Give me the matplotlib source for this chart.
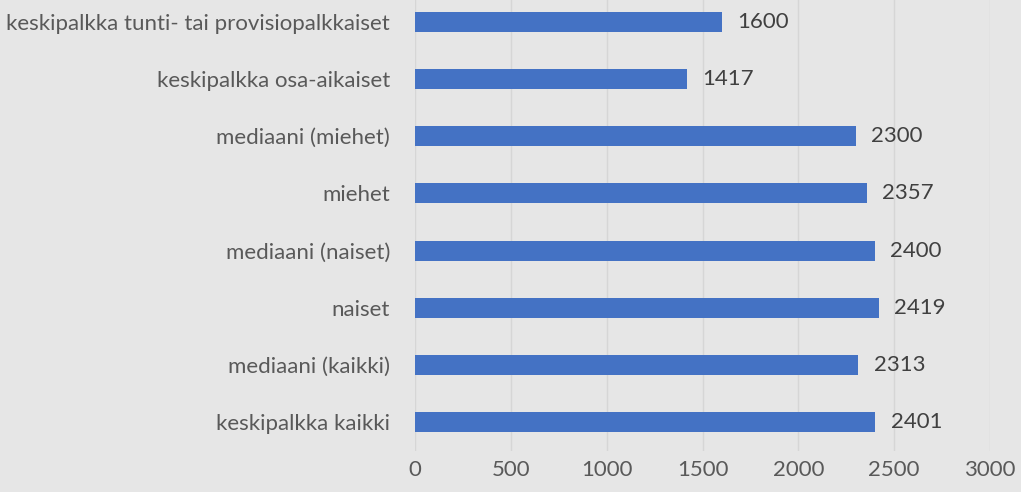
import matplotlib
matplotlib.use("Agg")
import matplotlib.pyplot as plt

# palkkatiedot, alhaalta ylös
categories = [
    "keskipalkka kaikki",
    "mediaani (kaikki)",
    "naiset",
    "mediaani (naiset)",
    "miehet",
    "mediaani (miehet)",
    "keskipalkka osa-aikaiset",
    "keskipalkka tunti- tai provisiopalkkaiset",
]
values = [2401, 2313, 2419, 2400, 2357, 2300, 1417, 1600]
xticks = [0, 500, 1000, 1500, 2000, 2500, 3000]

bg = "#e6e6e6"
txt = "#595959"
plt.rcParams["font.family"] = ["Lato", "DejaVu Sans"]

fig = plt.figure(figsize=(10.21, 4.92), dpi=100, facecolor=bg)
ax = fig.add_axes([415 / 1021, 1 - 450.6 / 492, 575 / 1021, 450.6 / 492])
ax.set_facecolor(bg)

y = list(range(len(categories)))
ax.barh(y, values, height=0.35, color="#4472c4", zorder=3)

for yy, v in zip(y, values):
    ax.text(v + 80, yy, str(v), va="center", ha="left", fontsize=16, color="#404040")

ax.set_xlim(0, 3000)
ax.set_ylim(-0.5, 7.5 - 6.6 / 57.1)
ax.set_xticks(xticks)
ax.set_yticks(y)
ax.set_yticklabels(categories)
ax.grid(axis="x", color="#d6d6d6", linewidth=1, zorder=0)
for s in ax.spines.values():
    s.set_visible(False)
ax.tick_params(axis="both", length=0, labelsize=16, colors=txt)
ax.tick_params(axis="y", pad=18)
ax.tick_params(axis="x", pad=7)

fig.savefig("out.png", dpi=100, facecolor=bg)
